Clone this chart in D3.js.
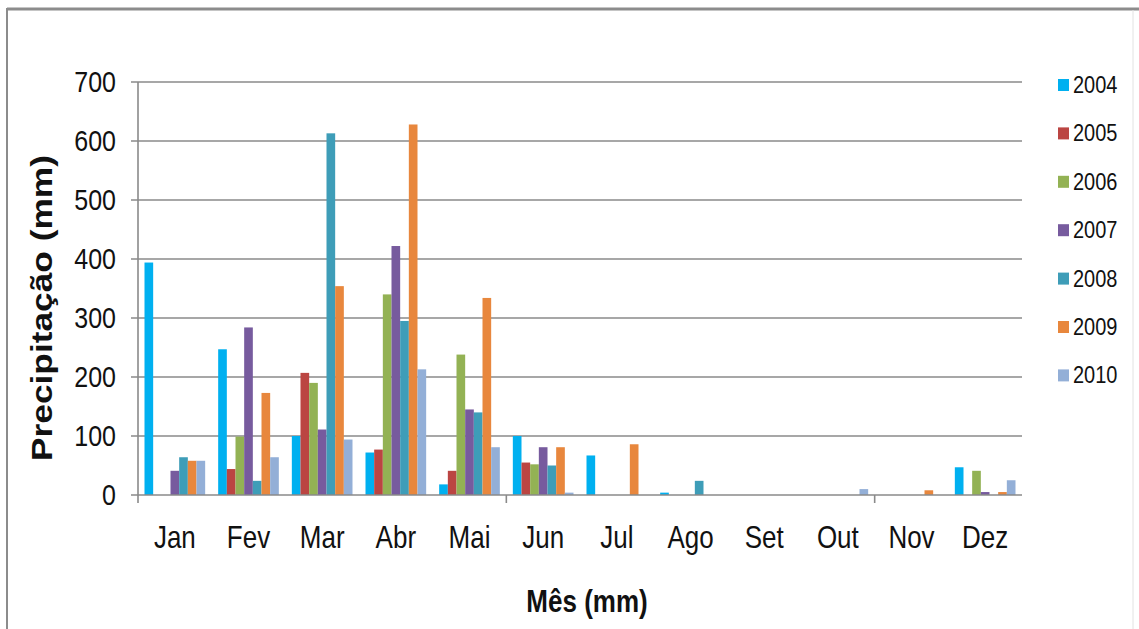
<!DOCTYPE html>
<html>
<head>
<meta charset="utf-8">
<script src="https://cdn.jsdelivr.net/npm/d3@7"></script>
<style>
  html, body { margin: 0; padding: 0; background: #fff; }
  svg { display: block; font-family: "Liberation Sans", Arial, sans-serif; }
</style>
</head>
<body>
<svg id="chart" width="1139" height="629"></svg>
<script>
// === Dados ===
const meses = ['Jan', 'Fev', 'Mar', 'Abr', 'Mai', 'Jun', 'Jul', 'Ago', 'Set', 'Out', 'Nov', 'Dez'];
const anos = ['2004', '2005', '2006', '2007', '2008', '2009', '2010'];
const yTicks = [0, 100, 200, 300, 400, 500, 600, 700];

// precipitação (mm) por ano, um valor por mês
const p2004 = [394, 247, 100, 72, 18, 100, 67, 4, 0, 0, 0, 47];
const p2005 = [0, 44, 207, 77, 41, 55, 0, 0, 0, 0, 0, 0];
const p2006 = [0, 99, 190, 340, 238, 52, 0, 0, 0, 0, 0, 41];
const p2007 = [41, 284, 111, 422, 145, 81, 0, 0, 0, 0, 0, 5];
const p2008 = [64, 24, 613, 295, 140, 50, 0, 24, 0, 0, 0, 0];
const p2009 = [58, 173, 354, 628, 334, 81, 86, 0, 0, 0, 8, 5];
const p2010 = [58, 64, 94, 213, 81, 4, 0, 0, 0, 10, 0, 25];

const cores = ['#00b0f0', '#bb4542', '#93b254', '#775b9e', '#3e9db8', '#e8873d', '#93afd7'];

const series = [p2004, p2005, p2006, p2007, p2008, p2009, p2010];
const rows = meses.map((m, i) => ({ mes: m, vals: anos.map((a, k) => ({ ano: a, v: series[k][i] })) }));

// === Layout ===
const svg = d3.select('#chart');
const plot = { left: 138, right: 1022, top: 82, bottom: 495 };
const gridCol = '#8a8a8a';
const esticar = 1.18; // o original está esticado na vertical

// moldura
svg.append('line').attr('x1', 7).attr('x2', 1139).attr('y1', 9).attr('y2', 9)
  .attr('stroke', '#8c8c8c').attr('stroke-width', 3);
svg.append('line').attr('x1', 7).attr('x2', 7).attr('y1', 8).attr('y2', 629)
  .attr('stroke', '#8c8c8c').attr('stroke-width', 2);
svg.append('line').attr('x1', 1133).attr('x2', 1133).attr('y1', 10).attr('y2', 629)
  .attr('stroke', '#e2e2e2').attr('stroke-width', 1);

// === Escalas ===
const x0 = d3.scaleBand().domain(meses).range([plot.left, plot.right]).padding(0);
const x1 = d3.scaleBand().domain(anos).range([0, x0.bandwidth()]).paddingInner(0).paddingOuter(0.75);
const y = d3.scaleLinear().domain([0, 700]).range([plot.bottom, plot.top]);

// grade
svg.append('g').selectAll('line').data(yTicks.filter(t => t > 0)).join('line')
  .attr('x1', plot.left - 7).attr('x2', plot.right)
  .attr('y1', d => y(d)).attr('y2', d => y(d))
  .attr('stroke', gridCol).attr('stroke-width', 1.6);

// barras
svg.append('g').selectAll('g').data(rows).join('g')
  .attr('transform', d => `translate(${x0(d.mes)},0)`)
  .selectAll('rect').data(d => d.vals).join('rect')
  .attr('x', d => x1(d.ano))
  .attr('width', x1.bandwidth())
  .attr('y', d => y(d.v))
  .attr('height', d => y(0) - y(d.v))
  .attr('fill', (d, i) => cores[i]);

// eixos
svg.append('line').attr('x1', plot.left).attr('x2', plot.left).attr('y1', plot.top).attr('y2', plot.bottom + 8)
  .attr('stroke', gridCol).attr('stroke-width', 1.6);
svg.append('line').attr('x1', plot.left - 7).attr('x2', plot.right).attr('y1', plot.bottom).attr('y2', plot.bottom)
  .attr('stroke', gridCol).attr('stroke-width', 1.6);
// marcas a cada 5 categorias
svg.append('g').selectAll('line').data([5, 10]).join('line')
  .attr('x1', d => x0(meses[d])).attr('x2', d => x0(meses[d]))
  .attr('y1', plot.bottom).attr('y2', plot.bottom + 8)
  .attr('stroke', gridCol).attr('stroke-width', 1.6);

// rótulos do eixo y
svg.append('g').selectAll('text').data(yTicks).join('text')
  .attr('transform', d => `translate(116,${y(d)}) scale(1,${esticar})`)
  .attr('text-anchor', 'end').attr('dominant-baseline', 'central')
  .attr('font-size', 25).attr('fill', '#111')
  .text(d => d);

// rótulos dos meses
svg.append('g').selectAll('text').data(meses).join('text')
  .attr('transform', d => `translate(${x0(d) + x0.bandwidth() / 2},548) scale(1,${esticar})`)
  .attr('text-anchor', 'middle')
  .attr('font-size', 26).attr('fill', '#111')
  .text(d => d);

// títulos
svg.append('text').attr('transform', `translate(587,612) scale(1,${esticar})`)
  .attr('text-anchor', 'middle').attr('font-size', 26).attr('font-weight', 'bold').attr('fill', '#111')
  .text('Mês (mm)');
svg.append('text').attr('transform', 'translate(52,308) rotate(-90)')
  .attr('text-anchor', 'middle').attr('font-size', 29).attr('font-weight', 'bold').attr('fill', '#111')
  .attr('textLength', 306).attr('lengthAdjust', 'spacingAndGlyphs')
  .text('Precipitação (mm)');

// legenda
const leg = svg.append('g').selectAll('g').data(anos).join('g')
  .attr('transform', (d, i) => `translate(1058,${85 + i * 48.4})`);
leg.append('rect').attr('x', 0).attr('y', -6).attr('width', 11).attr('height', 12)
  .attr('fill', (d, i) => cores[i]);
leg.append('text').attr('transform', `translate(15,0) scale(1,${esticar})`)
  .attr('dominant-baseline', 'central')
  .attr('font-size', 20).attr('fill', '#111')
  .text(d => d);
</script>
</body>
</html>
